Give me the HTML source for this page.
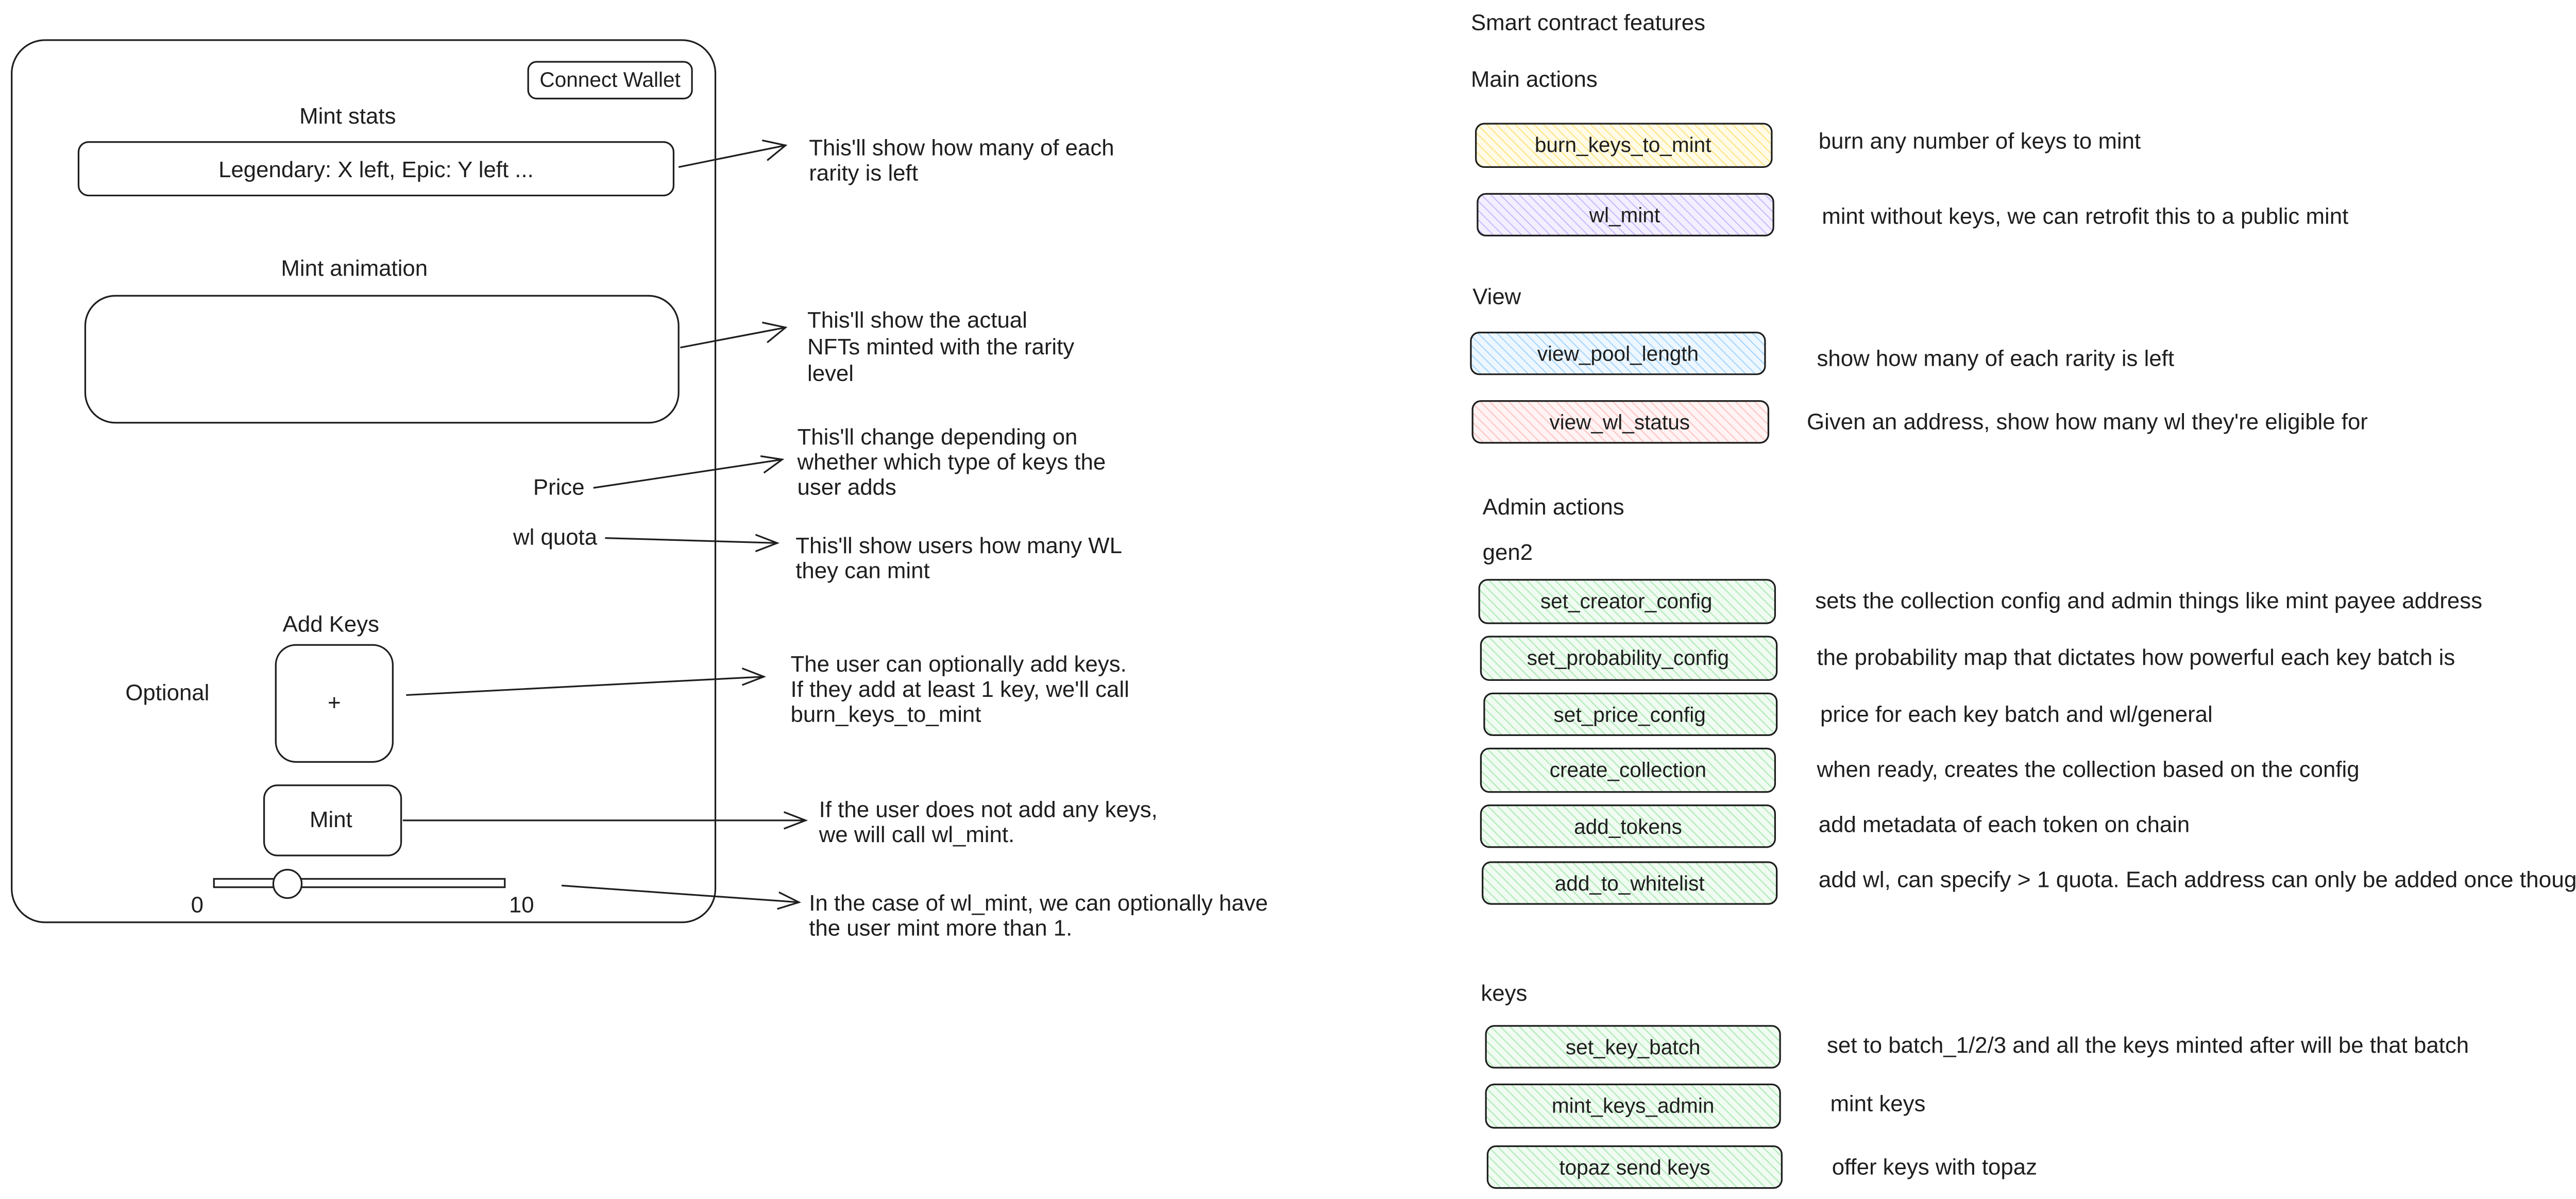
<!DOCTYPE html>
<html><head><meta charset="utf-8"><style>
html,body{margin:0;padding:0;background:#fff;}
svg{display:block;}
text{font-family:"Liberation Sans",sans-serif;font-size:13.5px;fill:#1e1e1e;}
text.b{font-size:12.5px;}
</style></head><body>
<svg width="5087" height="2328" viewBox="0 0 1568 717.6" preserveAspectRatio="none" xmlns="http://www.w3.org/2000/svg">
<defs>
<pattern id="hy" width="4" height="4" patternUnits="userSpaceOnUse" patternTransform="rotate(-45)"><rect width="4" height="4" fill="#fffbe6"/><line x1="0" y1="0" x2="0" y2="4" stroke="#ffe380" stroke-width="1.2"/></pattern>
<pattern id="hp" width="4" height="4" patternUnits="userSpaceOnUse" patternTransform="rotate(-45)"><rect width="4" height="4" fill="#f3efff"/><line x1="0" y1="0" x2="0" y2="4" stroke="#c8b6ff" stroke-width="1.2"/></pattern>
<pattern id="hb" width="4" height="4" patternUnits="userSpaceOnUse" patternTransform="rotate(-45)"><rect width="4" height="4" fill="#eef7ff"/><line x1="0" y1="0" x2="0" y2="4" stroke="#9fd3ff" stroke-width="1.2"/></pattern>
<pattern id="hr" width="4" height="4" patternUnits="userSpaceOnUse" patternTransform="rotate(-45)"><rect width="4" height="4" fill="#fff3f3"/><line x1="0" y1="0" x2="0" y2="4" stroke="#ffc0c0" stroke-width="1.2"/></pattern>
<pattern id="hg" width="4" height="4" patternUnits="userSpaceOnUse" patternTransform="rotate(-45)"><rect width="4" height="4" fill="#f0fbf1"/><line x1="0" y1="0" x2="0" y2="4" stroke="#a9eab2" stroke-width="1.2"/></pattern>
</defs>
<g fill="none" stroke="#1e1e1e" stroke-width="1">
<rect x="7" y="24" width="421" height="528" rx="20"/>
<rect x="316" y="37" width="98" height="22" rx="5"/>
<rect x="47" y="85" width="356" height="32" rx="6"/>
<rect x="51" y="177" width="355" height="76" rx="18"/>
<rect x="165" y="386" width="70" height="70" rx="12"/>
<rect x="158" y="470" width="82" height="42" rx="8"/>
<rect x="128" y="526" width="174" height="5"/>
<circle cx="172" cy="529" r="8.5" fill="#fff"/>
<path d="M406 100 L470 87 M456 84 L470 87 L459 96"/>
<path d="M407 208 L470 196 M456 193 L470 196 L459 205"/>
<path d="M355 292 L468 275 M455 273 L468 275 L457 283"/>
<path d="M362 322 L465 325 M452 320 L465 325 L452 330"/>
<path d="M243 416 L457 405 M444 400 L457 405 L444 410"/>
<path d="M241 491 L482 491 M469 486 L482 491 L469 496"/>
<path d="M336 530 L478 540 M466 534 L478 540 L465 544"/>
<rect x="883" y="74" width="177" height="26" rx="5" fill="url(#hy)"/>
<rect x="884" y="116" width="177" height="25" rx="5" fill="url(#hp)"/>
<rect x="880" y="199" width="176" height="25" rx="5" fill="url(#hb)"/>
<rect x="881" y="240" width="177" height="25" rx="5" fill="url(#hr)"/>
<rect x="885" y="347" width="177" height="26" rx="5" fill="url(#hg)"/>
<rect x="886" y="381" width="177" height="26" rx="5" fill="url(#hg)"/>
<rect x="888" y="415" width="175" height="25" rx="5" fill="url(#hg)"/>
<rect x="886" y="448" width="176" height="26" rx="5" fill="url(#hg)"/>
<rect x="886" y="482" width="176" height="25" rx="5" fill="url(#hg)"/>
<rect x="887" y="516" width="176" height="25" rx="5" fill="url(#hg)"/>
<rect x="889" y="614" width="176" height="25" rx="5" fill="url(#hg)"/>
<rect x="889" y="649" width="176" height="26" rx="5" fill="url(#hg)"/>
<rect x="890" y="686" width="176" height="25" rx="5" fill="url(#hg)"/>
</g>
<g text-anchor="middle">
<text x="365" y="52" class="b">Connect Wallet</text>
<text x="208" y="74">Mint stats</text>
<text x="225" y="106">Legendary: X left, Epic: Y left ...</text>
<text x="212" y="165">Mint animation</text>
<text x="198" y="378">Add Keys</text>
<text x="200" y="425" font-size="10">+</text>
<text x="198" y="495">Mint</text>
<text x="118" y="546">0</text>
<text x="312" y="546">10</text>
<text x="971" y="91" class="b">burn_keys_to_mint</text>
<text x="972" y="133" class="b">wl_mint</text>
<text x="968" y="216" class="b">view_pool_length</text>
<text x="969" y="257" class="b">view_wl_status</text>
<text x="973" y="364" class="b">set_creator_config</text>
<text x="974" y="398" class="b">set_probability_config</text>
<text x="975" y="432" class="b">set_price_config</text>
<text x="974" y="465" class="b">create_collection</text>
<text x="974" y="499" class="b">add_tokens</text>
<text x="975" y="533" class="b">add_to_whitelist</text>
<text x="977" y="631" class="b">set_key_batch</text>
<text x="977" y="666" class="b">mint_keys_admin</text>
<text x="978" y="703" class="b">topaz send keys</text>
</g>
<text x="319" y="296">Price</text>
<text x="307" y="326">wl quota</text>
<text x="75" y="419">Optional</text>
<text x="484" y="93">This'll show how many of each</text>
<text x="484" y="108">rarity is left</text>
<text x="483" y="196">This'll show the actual</text>
<text x="483" y="212">NFTs minted with the rarity</text>
<text x="483" y="228">level</text>
<text x="477" y="266">This'll change depending on</text>
<text x="477" y="281">whether which type of keys the</text>
<text x="477" y="296">user adds</text>
<text x="476" y="331">This'll show users how many WL</text>
<text x="476" y="346">they can mint</text>
<text x="473" y="402">The user can optionally add keys.</text>
<text x="473" y="417">If they add at least 1 key, we'll call</text>
<text x="473" y="432">burn_keys_to_mint</text>
<text x="490" y="489">If the user does not add any keys,</text>
<text x="490" y="504">we will call wl_mint.</text>
<text x="484" y="545">In the case of wl_mint, we can optionally have</text>
<text x="484" y="560">the user mint more than 1.</text>
<text x="880" y="18">Smart contract features</text>
<text x="880" y="52">Main actions</text>
<text x="881" y="182">View</text>
<text x="887" y="308">Admin actions</text>
<text x="887" y="335">gen2</text>
<text x="886" y="599">keys</text>
<text x="1088" y="89">burn any number of keys to mint</text>
<text x="1090" y="134">mint without keys, we can retrofit this to a public mint</text>
<text x="1087" y="219">show how many of each rarity is left</text>
<text x="1081" y="257">Given an address, show how many wl they're eligible for</text>
<text x="1086" y="364">sets the collection config and admin things like mint payee address</text>
<text x="1087" y="398">the probability map that dictates how powerful each key batch is</text>
<text x="1089" y="432">price for each key batch and wl/general</text>
<text x="1087" y="465">when ready, creates the collection based on the config</text>
<text x="1088" y="498">add metadata of each token on chain</text>
<text x="1088" y="531" textLength="465" lengthAdjust="spacingAndGlyphs">add wl, can specify &gt; 1 quota. Each address can only be added once though.</text>
<text x="1093" y="630">set to batch_1/2/3 and all the keys minted after will be that batch</text>
<text x="1095" y="665">mint keys</text>
<text x="1096" y="703">offer keys with topaz</text>
</svg>
</body></html>
